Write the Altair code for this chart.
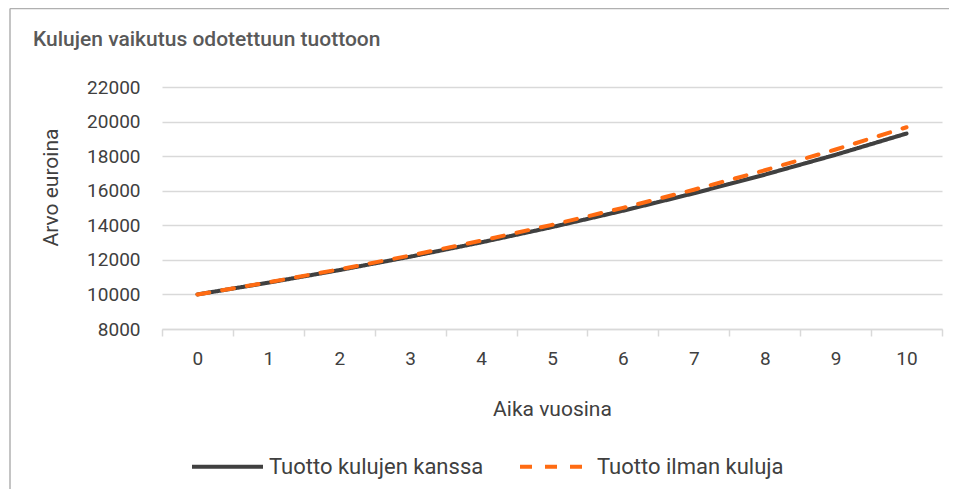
import altair as alt
import pandas as pd

years = list(range(11))
series = ["Tuotto kulujen kanssa", "Tuotto ilman kuluja"]
with_costs = [10000, 10680, 11406, 12182, 13010, 13895, 14840, 15849, 16927, 18078, 19307]
without_costs = [10000, 10700, 11449, 12250, 13108, 14026, 15007, 16058, 17182, 18385, 19672]
colors = ["#404040", "#ff6b12"]
y_ticks = [8000, 10000, 12000, 14000, 16000, 18000, 20000, 22000]
title_text = "Kulujen vaikutus odotettuun tuottoon"

rows = []
for s, vals in zip(series, [with_costs, without_costs]):
    for yr, v in zip(years, vals):
        rows.append({"Vuosi": yr, "Arvo": v, "Sarja": s})
df = pd.DataFrame(rows)

FONT = "Roboto"
W, H = 780, 242

legend = alt.Legend(
    title=None, orient="none", direction="horizontal", legendX=28, legendY=342,
    symbolType="stroke", symbolSize=5041, symbolStrokeWidth=4,
    labelFontSize=22, labelFont=FONT, labelColor="#404040", labelOffset=4,
    columnPadding=28, labelLimit=400,
)

lines = alt.Chart(df).mark_line(strokeWidth=4, strokeCap="round").encode(
    x=alt.X("Vuosi:O",
            scale=alt.Scale(type="band", paddingInner=0, paddingOuter=0),
            axis=alt.Axis(title="Aika vuosina", tickBand="extent", labelAngle=0,
                          domainColor="#d9d9d9", tickColor="#d9d9d9", domainWidth=1.5,
                          tickWidth=1.5, tickSize=7, labelFontSize=19, labelPadding=13,
                          titleFontSize=21, titlePadding=30, grid=False)),
    y=alt.Y("Arvo:Q",
            scale=alt.Scale(domain=[8000, 22000], nice=False, zero=False),
            axis=alt.Axis(values=y_ticks, format="d", title="Arvo euroina", domain=False,
                          ticks=False, gridColor="#d9d9d9", gridWidth=1.5, labelPadding=22,
                          labelFontSize=19, titleFontSize=21, titleX=-101, titleY=100)),
    color=alt.Color("Sarja:N", scale=alt.Scale(domain=series, range=colors), legend=legend),
    strokeDash=alt.StrokeDash("Sarja:N", scale=alt.Scale(domain=series, range=[[1, 0], [12, 13]]),
                              legend=legend),
    order=alt.Order("Vuosi:O"),
)

border = alt.Chart(alt.Data(values=[{}])).mark_rule(color="#b0b0b0", strokeWidth=1.5).encode(
    x=alt.value(-152), y=alt.value(-78.5), y2=alt.value(500)
)
border_top = alt.Chart(alt.Data(values=[{}])).mark_rule(color="#b0b0b0", strokeWidth=1.5).encode(
    x=alt.value(-152), x2=alt.value(900), y=alt.value(-78.5)
)
title = alt.Chart(alt.Data(values=[{"t": title_text}])).mark_text(
    align="left", baseline="alphabetic", fontSize=21, fontWeight=500, color="#595959", font=FONT
).encode(x=alt.value(-129), y=alt.value(-41), text="t:N")

chart = alt.layer(border, border_top, title, lines).properties(
    width=W, height=H,
    autosize=alt.AutoSizeParams(type="none"),
    padding={"left": 154, "top": 79, "right": 7, "bottom": 160},
).configure_view(stroke=None).configure_axis(
    labelFont=FONT, titleFont=FONT, labelColor="#404040", titleColor="#404040",
    titleFontWeight="normal"
)

chart.save("out.html", embed_options={"renderer": "svg", "actions": False})
